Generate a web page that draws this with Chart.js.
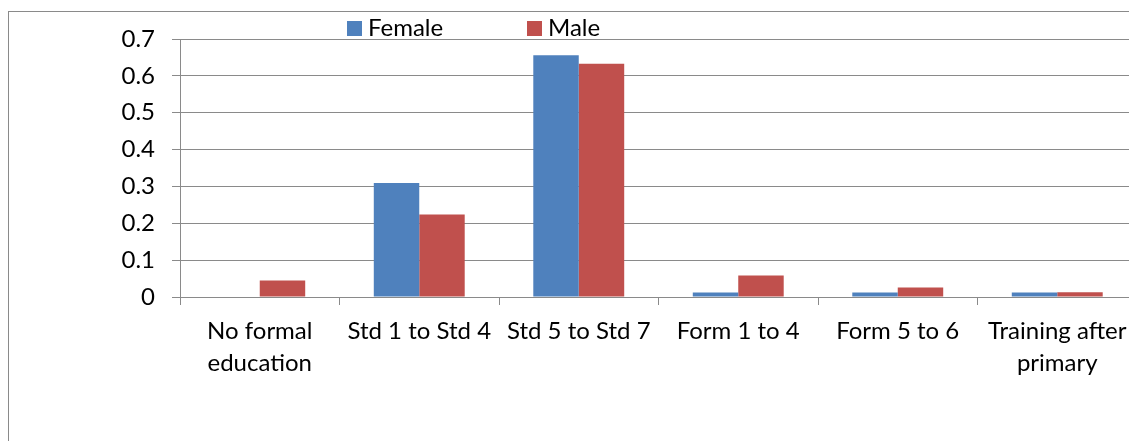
<!DOCTYPE html>
<html>
<head>
<meta charset="utf-8">
<script src="https://cdn.jsdelivr.net/npm/chart.js@4.4.1/dist/chart.umd.min.js"></script>
<style>
  html, body { margin: 0; padding: 0; background: #ffffff; overflow: hidden; }
  #wrap { position: relative; width: 1129px; height: 441px; overflow: hidden; }
  #frame { position: absolute; left: 8px; top: 11px; width: 1300px; height: 600px;
           border-left: 1px solid #8a8a8a; border-top: 1px solid #8a8a8a; }
  #box { position: absolute; left: 0; top: 0; width: 1160px; height: 441px; }
</style>
</head>
<body>
<div id="wrap">
  <div id="frame"></div>
  <div id="box"><canvas id="c" width="1160" height="441"></canvas></div>
</div>
<script>
const categories = [
  ["No formal", "education"],
  "Std 1 to Std 4",
  "Std 5 to Std 7",
  "Form 1 to 4",
  "Form 5 to 6",
  ["Training after", "primary"]
];
const femaleValues = [0, 0.309, 0.656, 0.012, 0.012, 0.012];
const maleValues = [0.045, 0.224, 0.633, 0.058, 0.026, 0.013];
const seriesNames = ["Female", "Male"];
const seriesColors = ["#4F81BD", "#C0504D"];
const yTicks = [0, 0.1, 0.2, 0.3, 0.4, 0.5, 0.6, 0.7];

const FONT = "Lato";
const FS = 24;
const GRID = "#8a8a8a";

const legendPlugin = {
  id: "customLegend",
  afterDraw(chart) {
    const ctx = chart.ctx;
    const starts = [347, 527];
    ctx.save();
    ctx.font = FS + "px " + FONT;
    ctx.textBaseline = "middle";
    ctx.textAlign = "left";
    chart.data.datasets.forEach((ds, i) => {
      const x = starts[i];
      ctx.fillStyle = ds.backgroundColor;
      ctx.fillRect(x, 21, 15, 15);
      ctx.fillStyle = "#000000";
      ctx.fillText(ds.label, x + 21, 28.5);
    });
    ctx.restore();
  }
};

new Chart(document.getElementById("c"), {
  type: "bar",
  data: {
    labels: categories,
    datasets: [
      { label: seriesNames[0], data: femaleValues, backgroundColor: seriesColors[0],
        categoryPercentage: 0.57, barPercentage: 1.0, borderWidth: 0 },
      { label: seriesNames[1], data: maleValues, backgroundColor: seriesColors[1],
        categoryPercentage: 0.57, barPercentage: 1.0, borderWidth: 0 }
    ]
  },
  options: {
    responsive: false,
    animation: false,
    devicePixelRatio: 1,
    layout: { padding: { top: 39, right: 23, bottom: 0, left: 0 } },
    plugins: {
      legend: { display: false },
      tooltip: { enabled: false }
    },
    scales: {
      x: {
        offset: true,
        grid: { offset: true, drawOnChartArea: false, drawTicks: true, tickLength: 8, color: GRID, lineWidth: 1 },
        border: { display: true, color: GRID, width: 1 },
        ticks: {
          color: "#000000", font: { family: FONT, size: FS, lineHeight: 1.33 },
          maxRotation: 0, minRotation: 0, autoSkip: false, padding: 10
        },
        afterFit(scale) { scale.height = 144; }
      },
      y: {
        min: 0, max: 0.7,
        afterBuildTicks(scale) { scale.ticks = yTicks.map(v => ({ value: v })); },
        grid: { color: GRID, lineWidth: 1, tickLength: 8, drawTicks: true },
        border: { display: true, color: GRID, width: 1 },
        ticks: {
          color: "#000000", font: { family: FONT, size: FS }, padding: 17,
          callback: (v) => String(+Number(v).toFixed(1))
        },
        afterFit(scale) { scale.width = 180; }
      }
    }
  },
  plugins: [legendPlugin]
});
</script>
</body>
</html>
